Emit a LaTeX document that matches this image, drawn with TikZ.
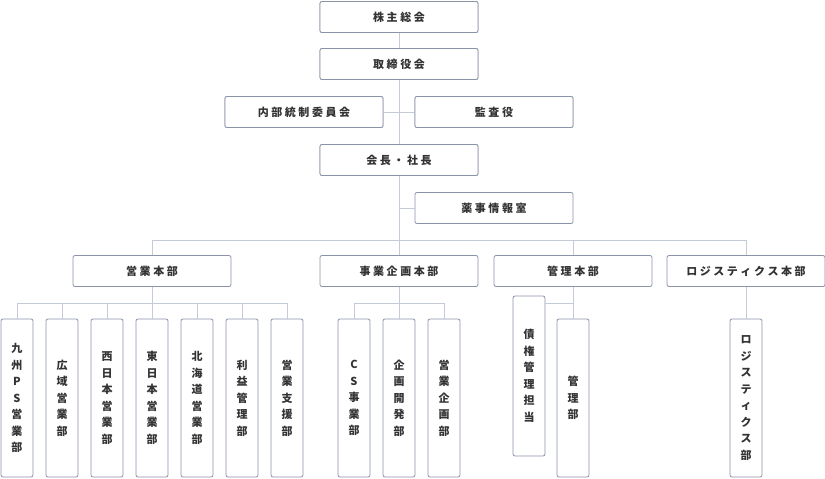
\documentclass[tikz,border=0pt]{standalone}
\usepackage{fontspec}
\setmainfont{Noto Sans CJK JP}
\begin{document}
\begin{tikzpicture}[x=1pt,y=-1pt,
	box/.style={draw=boxline,fill=white,rounded corners=2pt,line width=0.8pt,
		minimum width=158pt,minimum height=31pt,inner sep=0pt,
		font=\fontsize{11}{13}\selectfont\bfseries,text=textgray},
	vbox/.style={draw=boxline,fill=white,rounded corners=2pt,line width=0.8pt,
		minimum width=32pt,minimum height=158pt,inner sep=0pt,align=center,
		font=\fontsize{11}{16.5}\selectfont\bfseries,text=textgray},
	link/.style={draw=linecol,line width=0.8pt}]
	\definecolor{boxline}{HTML}{8A93A8}
	\definecolor{linecol}{HTML}{C5CAD8}
	\definecolor{textgray}{HTML}{333333}
	\useasboundingbox (0,0) rectangle (825,479);
	
	% top
	\node[box] (gm)   at (399, 17)  {株 主 総 会};
	\node[box] (bod)  at (399, 64)  {取 締 役 会};
	\node[box] (ic)   at (304, 112) {内 部 統 制 委 員 会};
	\node[box] (aud)  at (494, 112) {監 査 役};
	\node[box] (pres) at (399, 160) {会 長 ・ 社 長};
	\node[box] (ph)   at (494, 208) {薬 事 情 報 室};
	
	% divisions
	\node[box] (sales) at (152, 271) {営 業 本 部};
	\node[box] (plan)  at (399, 271) {事 業 企 画 本 部};
	\node[box] (admin) at (573, 271) {管 理 本 部};
	\node[box] (logi)  at (746, 271) {ロ ジ ス テ ィ ク ス 本 部};
	
	% departments
	\node[vbox] (s1) at (17, 398)  {九\\州\\P\\S\\営\\業\\部};
	\node[vbox] (s2) at (62, 398)  {広\\域\\営\\業\\部};
	\node[vbox] (s3) at (107, 398) {西\\日\\本\\営\\業\\部};
	\node[vbox] (s4) at (152, 398) {東\\日\\本\\営\\業\\部};
	\node[vbox] (s5) at (197, 398) {北\\海\\道\\営\\業\\部};
	\node[vbox] (s6) at (242, 398) {利\\益\\管\\理\\部};
	\node[vbox] (s7) at (287, 398) {営\\業\\支\\援\\部};
	
	\node[vbox] (p1) at (354, 398) {C\\S\\事\\業\\部};
	\node[vbox] (p2) at (399, 398) {企\\画\\開\\発\\部};
	\node[vbox] (p3) at (444, 398) {営\\業\\企\\画\\部};
	
	\node[vbox,minimum height=160pt] (a1) at (529, 376) {債\\権\\管\\理\\担\\当};
	\node[vbox] (a2) at (573, 398) {管\\理\\部};
	
	\node[vbox] (l1) at (746, 398) {ロ\\ジ\\ス\\テ\\ィ\\ク\\ス\\部};
	
	\begin{scope}[on background layer/.try]
	\end{scope}
	
	% connectors
	\coordinate (hq) at (399, 240);
	\coordinate (ss) at (152, 303);
	\coordinate (ps) at (399, 303);
	\coordinate (as) at (573, 303);
	
	\path[link] (gm) -- (bod);
	\path[link] (bod) -- (pres);
	\path[link] (ic) -- (aud);
	\path[link] (ph.west) -- (ph.west -| pres);
	\path[link] (pres) -- (hq);
	\path[link] (sales.north |- hq) -- (logi.north |- hq);
	\foreach \d in {sales,plan,admin,logi}
		\path[link] (\d.north |- hq) -- (\d.north);
	
	\path[link] (sales) -- (ss);
	\path[link] (s1.north |- ss) -- (s7.north |- ss);
	\foreach \d in {s1,s2,s3,s4,s5,s6,s7}
		\path[link] (\d.north |- ss) -- (\d.north);
	
	\path[link] (plan) -- (ps);
	\path[link] (p1.north |- ps) -- (p3.north |- ps);
	\foreach \d in {p1,p2,p3}
		\path[link] (\d.north |- ps) -- (\d.north);
	
	\path[link] (admin) -- (a2);
	\path[link] (a1.east |- as) -- (as);
	\path[link] (logi) -- (l1);
	
	% redraw boxes over the lines
	\foreach \n/\t in {gm/株 主 総 会,bod/取 締 役 会,ic/内 部 統 制 委 員 会,aud/監 査 役,pres/会 長 ・ 社 長}
		\node[box] at (\n) {\t};
\end{tikzpicture}
\end{document}
